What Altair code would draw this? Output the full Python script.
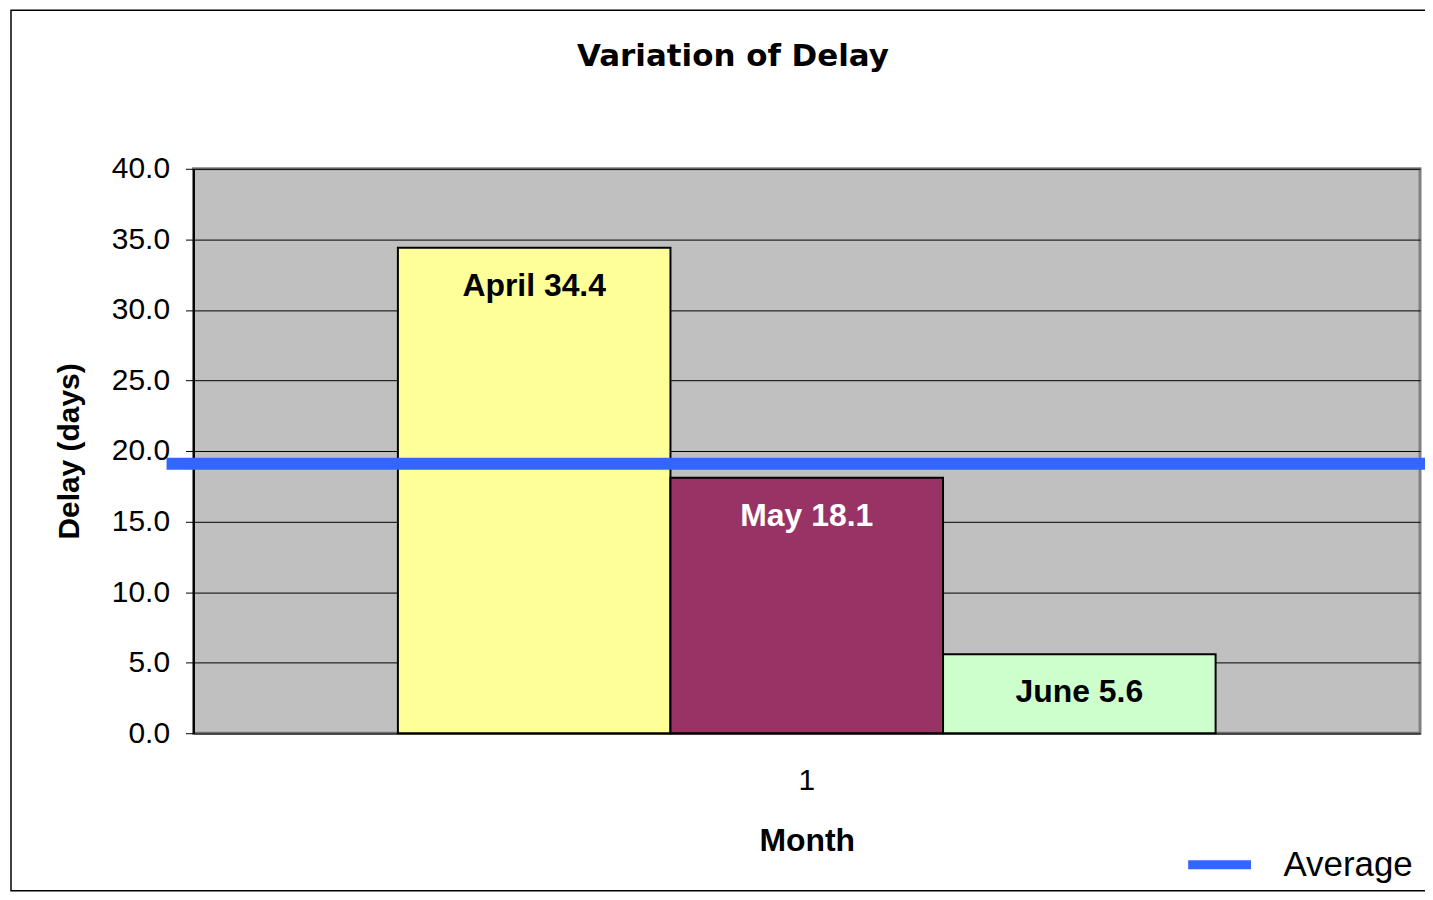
import altair as alt
import pandas as pd

# ---- data ----
months = ["April", "May", "June"]
delays = [34.4, 18.1, 5.6]
bar_colors = ["#FFFF99", "#993366", "#CCFFCC"]
category = ["1", "1", "1"]
average_value = [19.1]
average_label = ["Average"]
y_ticks = [0, 5, 10, 15, 20, 25, 30, 35, 40]
title_text = "Variation of Delay"
x_title = "Month"
y_title = "Delay (days)"

bars_df = pd.DataFrame({"cat": category, "month": months, "delay": delays})
avg_df = pd.DataFrame({"series": average_label, "avg": average_value})
frame_df = pd.DataFrame({"k": [0]})

W, H = 1230, 566
FONT = "Liberation Sans"

x_enc = alt.X(
    "cat:N",
    scale=alt.Scale(paddingInner=0, paddingOuter=0.25),
    axis=alt.Axis(
        title=x_title, labelAngle=0, ticks=False, tickSize=0,
        labelFontSize=30, labelFont=FONT, labelColor="black",
        labelBaseline="alphabetic", labelPadding=56,
        domainColor="#404040", domainWidth=2,
        titleFontSize=32, titleFont=FONT, titleFontWeight="bold",
        titleColor="black", titleBaseline="alphabetic", titleY=118,
    ),
)
xo_enc = alt.XOffset("month:N", sort=months,
                     scale=alt.Scale(paddingInner=0, paddingOuter=0))
y_enc = alt.Y(
    "delay:Q",
    scale=alt.Scale(domain=[0, 40], nice=False),
    axis=alt.Axis(
        title=y_title, values=y_ticks, format=".1f",
        labelFontSize=30, labelFont=FONT, labelColor="black", labelPadding=16,
        tickColor="black", tickSize=8, tickWidth=1,
        domainColor="black", domainWidth=2,
        grid=True, gridColor="black", gridWidth=1, gridOpacity=1,
        titleFontSize=30, titleFont=FONT, titleFontWeight="bold",
        titleColor="black", titleAngle=270, titleBaseline="middle",
        titleAlign="center", titleX=-124, titleY=H / 2,
    ),
)

frame = alt.Chart(frame_df).mark_rect(
    fillOpacity=0, stroke="black", strokeWidth=1.5
).encode(
    x=alt.value(-183), x2=alt.value(1245), y=alt.value(-159), y2=alt.value(724)
)

bars = alt.Chart(bars_df).mark_bar(stroke="black", strokeWidth=2).encode(
    x=x_enc,
    xOffset=xo_enc,
    y=y_enc,
    color=alt.Color("month:N", scale=alt.Scale(domain=months, range=bar_colors),
                    legend=None),
)

labels = alt.Chart(bars_df).transform_calculate(
    label="datum.month + ' ' + format(datum.delay, '.1f')"
).mark_text(
    baseline="middle", align="center", dy=38, fontSize=32, fontWeight="bold", font=FONT
).encode(
    x=alt.X("cat:N"),
    xOffset=alt.XOffset("month:N", sort=months),
    y=alt.Y("delay:Q", title=y_title),
    text="label:N",
    color=alt.condition(alt.datum.month == "May", alt.value("white"), alt.value("black")),
)

avg_rule = alt.Chart(avg_df).mark_rule(strokeWidth=12).encode(
    x=alt.value(-27), x2=alt.value(1239),
    y=alt.Y("avg:Q", title=y_title),
    color=alt.Color(
        "series:N",
        scale=alt.Scale(domain=average_label, range=["#3366FF"]),
        legend=alt.Legend(
            title=None, orient="none", legendX=993, legendY=662, padding=0,
            symbolType="stroke", symbolSize=3969, symbolStrokeWidth=9,
            labelFontSize=35, labelFont=FONT, labelColor="black", labelOffset=28,
        ),
    ),
)

chart = alt.layer(frame, bars, labels, avg_rule).resolve_scale(
    color="independent"
).properties(
    width=W, height=H,
    title=alt.Title(title_text, fontSize=31, font="DejaVu Sans", fontWeight="bold",
                    color="black", anchor="middle", frame="group", dx=-74,
                    baseline="alphabetic", offset=0, dy=88),
    autosize=alt.AutoSizeParams(type="none"),
    padding={"left": 186, "top": 160, "right": 5, "bottom": 160},
).configure(
    background="white"
).configure_view(
    fill="#C0C0C0", stroke="#808080", strokeWidth=3
)

chart.save("out.html", embed_options={"renderer": "svg", "actions": False})
